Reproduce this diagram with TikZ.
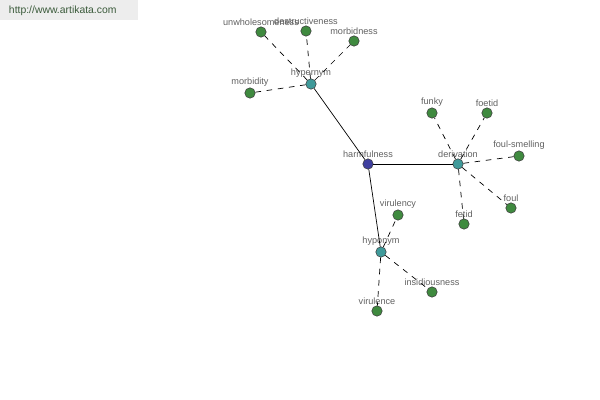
\documentclass[tikz,border=0pt]{standalone}
\usepackage{fontspec}
\setmainfont{Liberation Sans}
\definecolor{hubBlue}{HTML}{3F3F9F}
\definecolor{relTeal}{HTML}{3F9A9A}
\definecolor{leafGreen}{HTML}{3F8A3F}
\definecolor{txtGray}{HTML}{606060}
\definecolor{siteGreen}{HTML}{3A5A3A}
\begin{document}
\begin{tikzpicture}[x=0.025cm,y=-0.025cm,font=\fontsize{6.5}{7.5}\selectfont,
  dot/.style={circle,draw=black!75,line width=0.4pt,inner sep=0pt,minimum size=2.6mm},
  lab/.style={label={[text=txtGray,inner sep=1pt,yshift=-0.3pt]above:#1}},
  hub/.style={dot,fill=hubBlue},
  rel/.style={dot,fill=relTeal},
  leaf/.style={dot,fill=leafGreen},
  link/.style={line width=0.5pt},
  dlink/.style={line width=0.5pt,dash pattern=on 4pt off 4pt}]
  \useasboundingbox (0,0) rectangle (600,400);
  \fill[black!7] (0,0) rectangle (138,20);
  \node[anchor=west,text=siteGreen,font=\fontsize{7.4}{8.5}\selectfont] (site) at (4,11) {http://www.artikata.com};
  % centre and relation nodes
  \node[hub,lab=harmfulness] (harm) at (368,164) {};
  \node[rel,lab=hypernym] (hyper) at (311,84) {};
  \node[rel,lab=derivation] (deriv) at (458,164) {};
  \node[rel,lab=hyponym] (hypo) at (381,252) {};
  \foreach \r in {hyper,deriv,hypo}
    \draw[link] (harm) -- (\r);
  % words
  \foreach \n/\x/\y/\t in {unwh/261/32/unwholesomeness, destr/306/31/destructiveness,
      morbn/354/41/morbidness, morbt/250/93/morbidity,
      funky/432/113/funky, foetid/487/113/foetid, foulsm/519/156/foul-smelling,
      foul/511/208/foul, fetid/464/224/fetid,
      viry/398/215/virulency, insid/432/292/insidiousness, virce/377/311/virulence}
    \node[leaf,lab=\t] (\n) at (\x,\y) {};
  \foreach \a/\b in {hyper/unwh, hyper/destr, hyper/morbn, hyper/morbt,
      deriv/funky, deriv/foetid, deriv/foulsm, deriv/foul, deriv/fetid,
      hypo/viry, hypo/insid, hypo/virce}
    \draw[dlink] (\a) -- (\b);
\end{tikzpicture}
\end{document}
